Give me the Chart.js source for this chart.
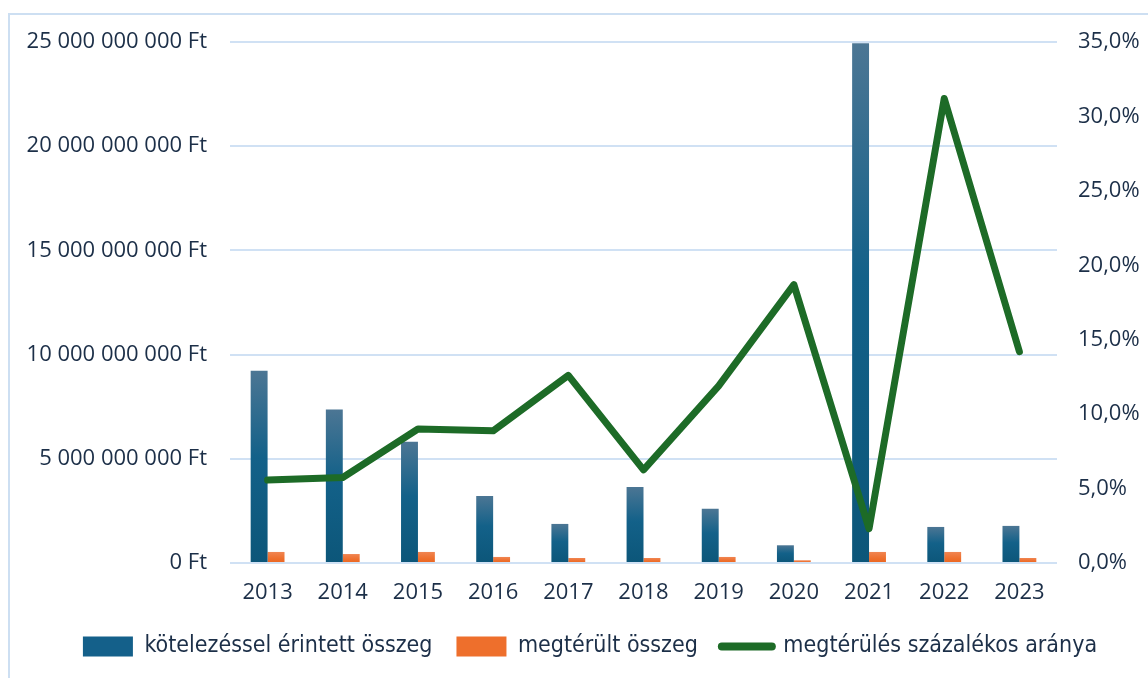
<!DOCTYPE html>
<html>
<head>
<meta charset="utf-8">
<script src="https://cdn.jsdelivr.net/npm/chart.js@4/dist/chart.umd.min.js"></script>
<style>
  html, body { margin: 0; padding: 0; background: #fff; }
  #wrap { position: relative; width: 1148px; height: 678px; overflow: hidden; }
  #frame { position: absolute; left: 8px; top: 13px; width: 1200px; height: 700px; border: 2px solid #cddff2; box-sizing: border-box; }
  canvas { position: absolute; left: 0; top: 0; }
</style>
</head>
<body>
<div id="wrap">
  <div id="frame"></div>
  <canvas id="c" width="1148" height="678"></canvas>
</div>
<script>
const years = ['2013','2014','2015','2016','2017','2018','2019','2020','2021','2022','2023'];
const affectedAmount = [9230000000, 7360000000, 5820000000, 3220000000, 1875000000, 3650000000, 2600000000, 850000000, 24940000000, 1730000000, 1780000000];
const recoveredAmount = [530000000, 430000000, 530000000, 290000000, 240000000, 240000000, 290000000, 130000000, 530000000, 530000000, 240000000];
const recoveryRate = [5.57, 5.74, 9.0, 8.88, 12.6, 6.26, 11.9, 18.7, 2.3, 31.2, 14.2];
const leftTicks = [0, 5000000000, 10000000000, 15000000000, 20000000000, 25000000000];
const rightTicks = [0, 5, 10, 15, 20, 25, 30, 35];
const seriesNames = ['kötelezéssel érintett összeg', 'megtérült összeg', 'megtérülés százalékos aránya'];

const FONT = '"Open Sans", sans-serif';
const TEXT = '#1c2f48';

function fmtFt(v) {
  return String(Math.round(v)).replace(/\B(?=(\d{3})+(?!\d))/g, ' ') + ' Ft';
}
function fmtPct(v) {
  return v.toFixed(1).replace('.', ',') + '%';
}

function barGradient(stops, fallback) {
  return (ctx) => {
    const chart = ctx.chart;
    const ys = chart.scales && chart.scales.y;
    if (!ys || ctx.raw == null) return fallback;
    const top = ys.getPixelForValue(ctx.raw);
    const base = ys.getPixelForValue(0);
    if (!isFinite(top) || !isFinite(base) || base - top < 1) return fallback;
    const g = chart.ctx.createLinearGradient(0, top, 0, base);
    stops.forEach(s => g.addColorStop(s[0], s[1]));
    return g;
  };
}

const blueStops = [[0, '#4c7694'], [0.45, '#136189'], [1, '#0c5679']];
const orangeStops = [[0, '#f08552'], [0.6, '#ee6f2d'], [1, '#ea6621']];

const shiftLegend = {
  id: 'shiftLegend',
  afterLayout(chart) {
    if (chart.legend) {
      chart.legend.left += 16;
      chart.legend.right += 16;
    }
  }
};

new Chart(document.getElementById('c'), {
  plugins: [shiftLegend],
  data: {
    labels: years,
    datasets: [
      {
        type: 'line',
        label: seriesNames[2],
        data: recoveryRate,
        yAxisID: 'y1',
        borderColor: '#1d6b27',
        backgroundColor: '#1d6b27',
        borderWidth: 7,
        pointRadius: 0,
        borderCapStyle: 'round',
        borderJoinStyle: 'round',
        tension: 0,
        order: 0
      },
      {
        type: 'bar',
        label: seriesNames[0],
        data: affectedAmount,
        yAxisID: 'y',
        backgroundColor: barGradient(blueStops, '#14618a'),
        categoryPercentage: 0.45,
        barPercentage: 1.0,
        order: 1
      },
      {
        type: 'bar',
        label: seriesNames[1],
        data: recoveredAmount,
        yAxisID: 'y',
        backgroundColor: barGradient(orangeStops, '#ee7030'),
        categoryPercentage: 0.45,
        barPercentage: 1.0,
        order: 2
      }
    ]
  },
  options: {
    responsive: false,
    animation: false,
    devicePixelRatio: 1,
    layout: { padding: { top: 42, bottom: 10, left: 0, right: 0 } },
    plugins: {
      tooltip: { enabled: false },
      legend: {
        position: 'bottom',
        labels: {
          font: { family: '"DejaVu Sans Condensed", "DejaVu Sans", sans-serif', size: 23 },
          color: TEXT,
          usePointStyle: true,
          pointStyleWidth: 50,
          boxHeight: 20,
          padding: 24,
          generateLabels: (chart) => {
            const ds = chart.data.datasets;
            return [1, 2, 0].map(i => {
              const isLine = ds[i].type === 'line';
              return {
                text: ds[i].label,
                datasetIndex: i,
                fillStyle: i === 1 ? '#14608a' : (i === 2 ? '#ee6f2c' : '#1d6b27'),
                strokeStyle: isLine ? '#1d6b27' : 'rgba(0,0,0,0)',
                lineWidth: isLine ? 8 : 0,
                lineCap: 'round',
                pointStyle: isLine ? 'line' : 'rect',
                fontColor: TEXT,
                hidden: false
              };
            });
          }
        }
      }
    },
    scales: {
      x: {
        grid: { display: false, drawTicks: false },
        border: { display: false },
        ticks: { font: { family: FONT, size: 22 }, color: TEXT, padding: 17, maxRotation: 0 },
        afterFit: (s) => { s.height = 48; }
      },
      y: {
        position: 'left',
        min: 0, max: 25000000000,
        afterBuildTicks: (s) => { s.ticks = leftTicks.map(v => ({ value: v })); },
        grid: { color: '#d0e1f4', lineWidth: 2, drawTicks: false },
        border: { display: false },
        ticks: { font: { family: FONT, size: 22 }, color: TEXT, padding: 23, callback: (v) => fmtFt(v) },
        afterFit: (s) => { s.width = 230; }
      },
      y1: {
        position: 'right',
        min: 0, max: 35,
        afterBuildTicks: (s) => { s.ticks = rightTicks.map(v => ({ value: v })); },
        grid: { display: false, drawTicks: false },
        border: { display: false },
        ticks: { font: { family: FONT, size: 22 }, color: TEXT, padding: 21, callback: (v) => fmtPct(v) },
        afterFit: (s) => { s.width = 91; }
      }
    }
  }
});
</script>
</body>
</html>
